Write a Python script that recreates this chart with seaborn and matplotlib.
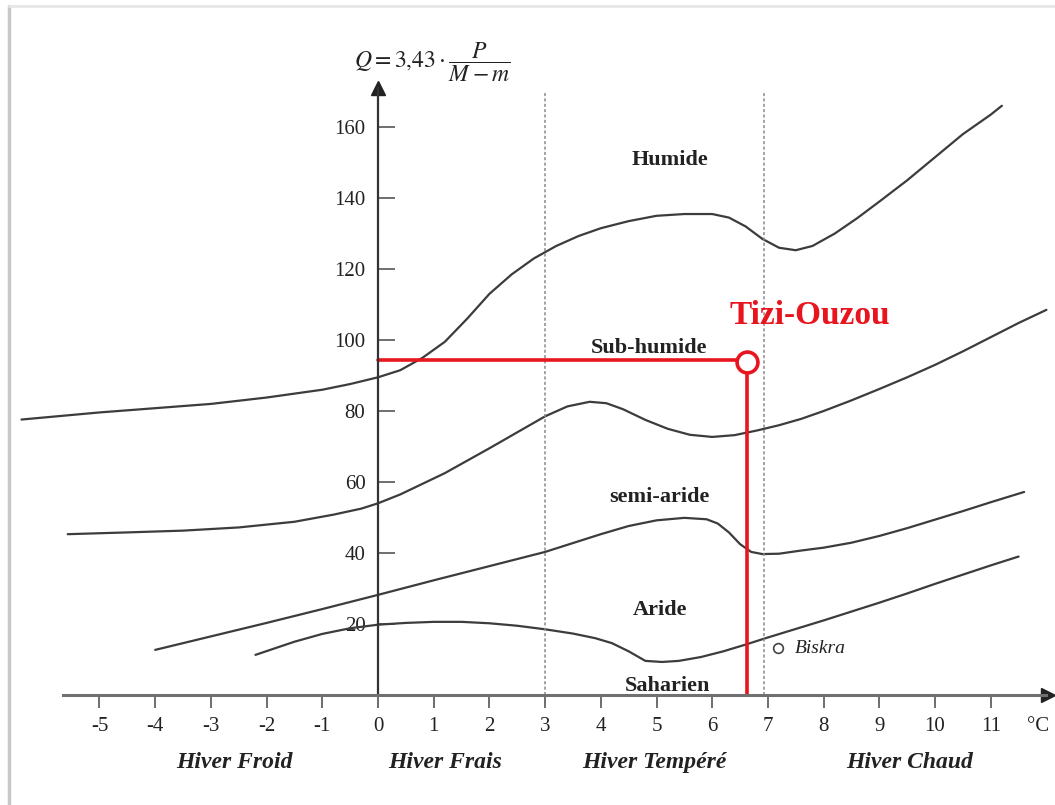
import matplotlib
matplotlib.use('Agg')
import matplotlib.pyplot as plt
from matplotlib.lines import Line2D
import pandas as pd
import seaborn as sns

# Emberger climagram: m (°C) on x, Q2 on y
c1_t = [-6.4, -5.0, -4.0, -3.0, -2.0, -1.0, -0.5, 0.0, 0.4, 0.8, 1.2, 1.6, 2.0, 2.4, 2.8,
        3.2, 3.6, 4.0, 4.5, 5.0, 5.5, 6.0, 6.3, 6.6, 6.9, 7.2, 7.5, 7.8, 8.2, 8.6, 9.0,
        9.5, 10.0, 10.5, 11.0, 11.2]
c1_q = [77.6, 79.6, 80.8, 82.0, 83.8, 86.0, 87.6, 89.5, 91.5, 95.0, 99.5, 106.0, 113.0,
        118.5, 123.0, 126.5, 129.3, 131.5, 133.5, 135.0, 135.5, 135.5, 134.5, 132.0,
        128.5, 126.0, 125.3, 126.5, 130.0, 134.3, 139.0, 145.0, 151.5, 158.0, 163.5, 166.0]

c2_t = [-5.57, -4.5, -3.5, -2.5, -1.5, -0.8, -0.3, 0.0, 0.4, 0.8, 1.2, 1.6, 2.0, 2.5, 3.0,
        3.4, 3.8, 4.1, 4.4, 4.8, 5.2, 5.6, 6.0, 6.4, 6.8, 7.2, 7.6, 8.0, 8.5, 9.0, 9.5,
        10.0, 10.5, 11.0, 11.5, 12.0]
c2_q = [45.3, 45.8, 46.3, 47.2, 48.8, 50.8, 52.5, 54.0, 56.5, 59.5, 62.5, 66.0, 69.5,
        74.0, 78.5, 81.3, 82.6, 82.2, 80.5, 77.5, 75.0, 73.3, 72.7, 73.2, 74.5, 76.0,
        77.8, 80.0, 83.0, 86.2, 89.5, 93.0, 96.8, 100.8, 104.8, 108.5]

c3_t = [-4.0, -3.0, -2.0, -1.0, 0.0, 1.0, 2.0, 3.0, 3.5, 4.0, 4.5, 5.0, 5.5, 5.9, 6.1,
        6.3, 6.5, 6.7, 6.9, 7.2, 7.6, 8.0, 8.5, 9.0, 9.5, 10.0, 10.5, 11.0, 11.6]
c3_q = [12.7, 16.5, 20.3, 24.2, 28.2, 32.3, 36.3, 40.3, 42.8, 45.3, 47.6, 49.2, 49.9,
        49.5, 48.3, 45.8, 42.5, 40.3, 39.7, 39.8, 40.7, 41.5, 42.9, 44.8, 47.0, 49.4,
        51.8, 54.3, 57.2]

c4_t = [-2.2, -1.5, -1.0, -0.5, 0.0, 0.5, 1.0, 1.5, 2.0, 2.5, 3.0, 3.5, 3.9, 4.2, 4.5,
        4.8, 5.1, 5.4, 5.8, 6.2, 6.6, 7.0, 7.5, 8.0, 8.5, 9.0, 9.5, 10.0, 10.5, 11.0, 11.5]
c4_q = [11.3, 15.0, 17.2, 18.8, 19.8, 20.3, 20.6, 20.6, 20.2, 19.5, 18.5, 17.3, 16.0,
        14.6, 12.3, 9.6, 9.3, 9.6, 10.7, 12.3, 14.2, 16.2, 18.6, 21.0, 23.5, 26.0, 28.6,
        31.3, 33.9, 36.5, 39.0]

curves = [(c1_t, c1_q), (c2_t, c2_q), (c3_t, c3_q), (c4_t, c4_q)]

x_ticks = list(range(-5, 12))
y_ticks = [20, 40, 60, 80, 100, 120, 140, 160]
winter_limits = [3, 6.93]

zones = ['Humide', 'Sub-humide', 'semi-aride', 'Aride', 'Saharien']
zone_t = [5.24, 4.86, 5.06, 5.06, 5.2]
zone_q = [150.7, 97.7, 55.8, 23.9, 2.6]

winters = ['Hiver Froid', 'Hiver Frais', 'Hiver Tempéré', 'Hiver Chaud']
winter_t = [-2.57, 1.2, 4.97, 9.55]

station = 'Tizi-Ouzou'
station_m = 6.62
station_q = 94.5

biskra_m = 7.18
biskra_q = 13.2

sns.set_style('white')
plt.rcParams['font.family'] = ['Liberation Serif', 'DejaVu Serif']
plt.rcParams['mathtext.fontset'] = 'stix'

fig = plt.figure(figsize=(10.55, 8.05), dpi=100)
ax = fig.add_axes([0, 0, 1, 1])
ax.set_xlim(-6.786, 12.154)
ax.set_ylim(-31.0, 195.8)

# boundary curves
for t, q in curves:
    df = pd.DataFrame({'m': t, 'Q': q})
    sns.lineplot(data=df, x='m', y='Q', ax=ax, color='#3c3c3c', lw=1.6,
                 sort=False, estimator=None)

# winter type limits
for v in winter_limits:
    ax.plot([v, v], [0, 169.5], color='#8a8a8a', lw=1.1, ls=(0, (2, 1.5)))

# axes
for s in ['top', 'right']:
    ax.spines[s].set_visible(False)
ax.spines['left'].set_position(('data', 0))
ax.spines['left'].set_bounds(0, 171)
ax.spines['left'].set_color('#333333')
ax.spines['left'].set_linewidth(1.6)
ax.spines['bottom'].set_position(('data', 0))
ax.spines['bottom'].set_bounds(-5.65, 12.0)
ax.spines['bottom'].set_color('#707070')
ax.spines['bottom'].set_linewidth(2.2)
ax.plot(0, 171, marker='^', ms=10, color='#222222', clip_on=False)
ax.plot(12.02, 0, marker='>', ms=10, color='#222222', clip_on=False)

ax.set_xticks(x_ticks)
ax.set_xticklabels([str(v) for v in x_ticks])
ax.set_yticks(y_ticks)
ax.set_yticklabels([str(v) for v in y_ticks])
ax.tick_params(axis='x', bottom=True, direction='out', length=9, width=1.2,
               color='#555555', pad=7, labelsize=15, labelcolor='#222222')
ax.tick_params(axis='y', left=True, direction='in', length=12, width=1.2,
               color='#555555', pad=9, labelsize=15, labelcolor='#222222')
ax.set_xlabel('')
ax.set_ylabel('')
ax.text(11.85, -9, '°C', ha='center', va='center', fontsize=15, color='#222222')

# formula
ax.text(0.97, 178.3, r'$Q=3{,}43\cdot\dfrac{P}{M-m}$', ha='center', va='center',
        fontsize=17, color='#222222')

# zone labels
for name, t, q in zip(zones, zone_t, zone_q):
    ax.text(t, q, name, ha='center', va='center', fontsize=16, fontweight='bold',
            color='#222222')

for name, t in zip(winters, winter_t):
    ax.text(t, -18.9, name, ha='center', va='center', fontsize=17,
            fontweight='bold', fontstyle='italic', color='#222222')

# Biskra
ax.plot(biskra_m, biskra_q, marker='o', ms=7, mfc='none', mec='#444444', mew=1.2)
ax.text(biskra_m + 0.3, biskra_q, 'Biskra', ha='left', va='center', fontsize=14,
        fontstyle='italic', color='#222222')

# Tizi-Ouzou station
red = '#e8141e'
ax.plot([0, station_m - 0.2], [station_q, station_q], color=red, lw=2.6)
ax.plot([station_m, station_m], [station_q - 2.5, 0], color=red, lw=2.6)
ax.plot(station_m, station_q - 0.6, marker='o', ms=15, mfc='white', mec=red, mew=2.6)
ax.text(7.76, 106.8, station, ha='center', va='center', fontsize=24,
        fontweight='bold', color=red)

# scanned page border
fig.add_artist(Line2D([9 / 1055, 9 / 1055], [0, 1 - 6 / 805], color='#c8c8c8', lw=2.5))
fig.add_artist(Line2D([9 / 1055, 1], [1 - 6 / 805, 1 - 6 / 805], color='#e6e6e6', lw=2))

fig.savefig('out.png', dpi=100)
